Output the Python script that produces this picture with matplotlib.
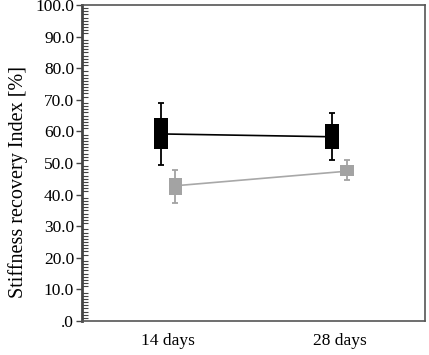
import numpy as np
import matplotlib.pyplot as plt
from matplotlib.ticker import MultipleLocator

plt.rcParams['font.family'] = ['Liberation Serif', 'DejaVu Serif']

# data
categories = ['14 days', '28 days']
black_mean = [59.2, 58.3]
black_box_lo = [54.4, 54.3]
black_box_hi = [64.2, 62.2]
black_err_lo = [49.5, 50.8]
black_err_hi = [69.0, 65.8]

gray_mean = [42.8, 47.4]
gray_box_lo = [39.9, 46.0]
gray_box_hi = [45.3, 49.4]
gray_err_lo = [37.4, 44.6]
gray_err_hi = [47.9, 50.9]

yticks = [0, 10, 20, 30, 40, 50, 60, 70, 80, 90, 100]
ytick_labels = ['.0', '10.0', '20.0', '30.0', '40.0', '50.0', '60.0', '70.0', '80.0', '90.0', '100.0']

fig = plt.figure(figsize=(4.29, 3.55), dpi=100)
ax = fig.add_axes([0.1923, 0.0958, 0.7984, 0.8901])

x = np.arange(len(categories))
off = 0.043
w = 0.08


def draw_series(xs, mean, blo, bhi, elo, ehi, color, lcolor, lw):
    mean = np.array(mean)
    ax.plot(xs, mean, color=lcolor, lw=lw, zorder=2)
    ax.errorbar(xs, mean, yerr=[mean - np.array(elo), np.array(ehi) - mean],
                fmt='none', ecolor=color, elinewidth=1.3, capsize=2.5, capthick=1.3, zorder=1)
    ax.bar(xs, np.array(bhi) - np.array(blo), bottom=blo, width=w, color=color, zorder=3)


draw_series(x - off, black_mean, black_box_lo, black_box_hi, black_err_lo, black_err_hi, 'black', 'black', 1.2)
draw_series(x + off, gray_mean, gray_box_lo, gray_box_hi, gray_err_lo, gray_err_hi, '#a3a3a3', '#a8a8a8', 1.2)

ax.set_xlim(-0.5, 1.5)
ax.set_ylim(0, 100)
ax.set_xticks(x)
ax.set_xticklabels(categories, fontsize=12.5)
ax.set_yticks(yticks)
ax.set_yticklabels(ytick_labels, fontsize=12.5)
ax.yaxis.set_minor_locator(MultipleLocator(1))
ax.tick_params(axis='x', length=0, pad=9)
ax.tick_params(axis='y', which='major', direction='out', length=4, width=1, color='#444444', pad=2)
ax.tick_params(axis='y', which='minor', direction='in', length=4, width=0.8, color='#444444')
ax.set_ylabel('Stiffness recovery Index [%]', fontsize=14.5)
ax.yaxis.set_label_coords(-0.158, 0.44)

for s in ['top', 'right', 'bottom']:
    ax.spines[s].set_color('#555555')
    ax.spines[s].set_linewidth(1.2)
ax.spines['left'].set_color('#444444')
ax.spines['left'].set_linewidth(2)

fig.savefig('out.png', dpi=100)
